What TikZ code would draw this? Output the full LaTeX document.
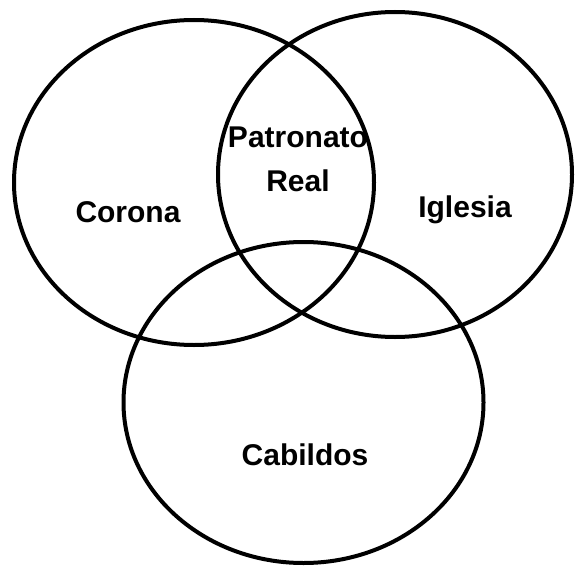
\documentclass[tikz,border=0pt]{standalone}
\usepackage{fontspec}
\setmainfont{Liberation Sans}
\usetikzlibrary{shapes.geometric}

\begin{document}
\begin{tikzpicture}[
        x=1pt, y=-1pt,
        set/.style={draw, ellipse, line width=4pt, inner sep=0pt,
                    minimum width=360pt, minimum height=325pt},
        lbl/.style={font=\fontsize{30}{44}\selectfont\bfseries,
                    align=center, inner sep=0pt}
      ]
        \useasboundingbox (0,0) rectangle (575,567);
        % the three sets
        \node[set] (corona)   at (194,182.5) {};
        \node[set, minimum width=354pt] (iglesia)  at (395,174.5) {};
        \node[set, minimum height=321pt] (cabildos) at (303.5,402.5) {};
        % labels
        \node[lbl, anchor=base] (coronaLbl)   at (128,222) {Corona};
        \node[lbl, anchor=base] (iglesiaLbl)  at (465,217) {Iglesia};
        \node[lbl, anchor=base] (cabildosLbl) at (305,465) {Cabildos};
        \node[lbl] (patronato) at (298,159) {Patronato\\Real};
      \end{tikzpicture}
\end{document}
